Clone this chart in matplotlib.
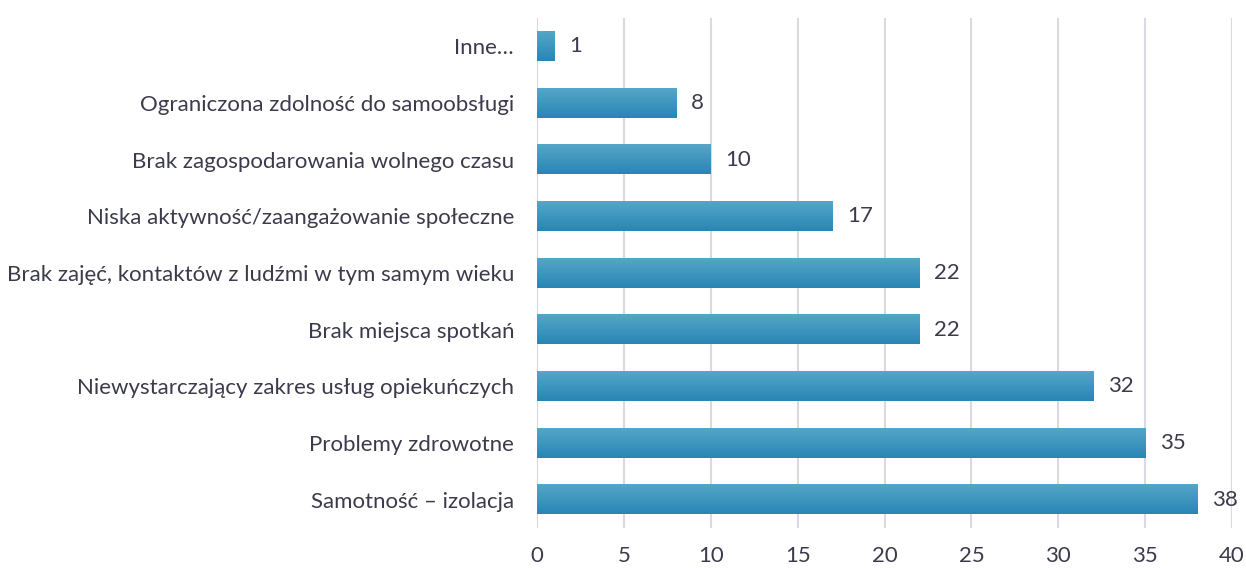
import numpy as np
import matplotlib.pyplot as plt
from matplotlib.colors import LinearSegmentedColormap

categories = [
    "Samotność – izolacja",
    "Problemy zdrowotne",
    "Niewystarczający zakres usług opiekuńczych",
    "Brak miejsca spotkań",
    "Brak zajęć, kontaktów z ludźmi w tym samym wieku",
    "Niska aktywność/zaangażowanie społeczne",
    "Brak zagospodarowania wolnego czasu",
    "Ograniczona zdolność do samoobsługi",
    "Inne…",
]
values = [38, 35, 32, 22, 22, 17, 10, 8, 1]
xticks = [0, 5, 10, 15, 20, 25, 30, 35, 40]

plt.rcParams['font.family'] = ['Lato', 'DejaVu Sans']
text_color = '#3b3b4b'

fig = plt.figure(figsize=(12.46, 5.68), dpi=100)
ax = fig.add_axes([0.431, 0.0704, 0.5578, 0.898])

bar_h = 0.52
grad = LinearSegmentedColormap.from_list('g', ['#2886b4', '#55a6c8'])
y = np.arange(len(categories))
ax.barh(y, values, height=bar_h, color='#3597c0', zorder=2)
for yi, v in zip(y, values):
    # vertical gradient inside each bar
    g = np.linspace(0, 1, 50).reshape(-1, 1)
    ax.imshow(g, cmap=grad, aspect='auto', origin='lower',
              extent=[0, v, yi - bar_h / 2, yi + bar_h / 2], zorder=3)
    ax.text(v + 0.85, yi, str(v), va='center', ha='left', fontsize=16,
            color=text_color)

ax.set_xlim(0, 40)
ax.set_ylim(-0.5, len(categories) - 0.5)
ax.set_xticks(xticks)
ax.set_yticks(y)
ax.set_yticklabels(categories)
ax.tick_params(axis='both', length=0, labelsize=16, colors=text_color)
ax.tick_params(axis='y', pad=16.5)
ax.tick_params(axis='x', pad=13)
ax.grid(axis='x', color='#d9d9e1', linewidth=1.5, zorder=0)
for s in ax.spines.values():
    s.set_visible(False)

fig.savefig('out.png', dpi=100)
